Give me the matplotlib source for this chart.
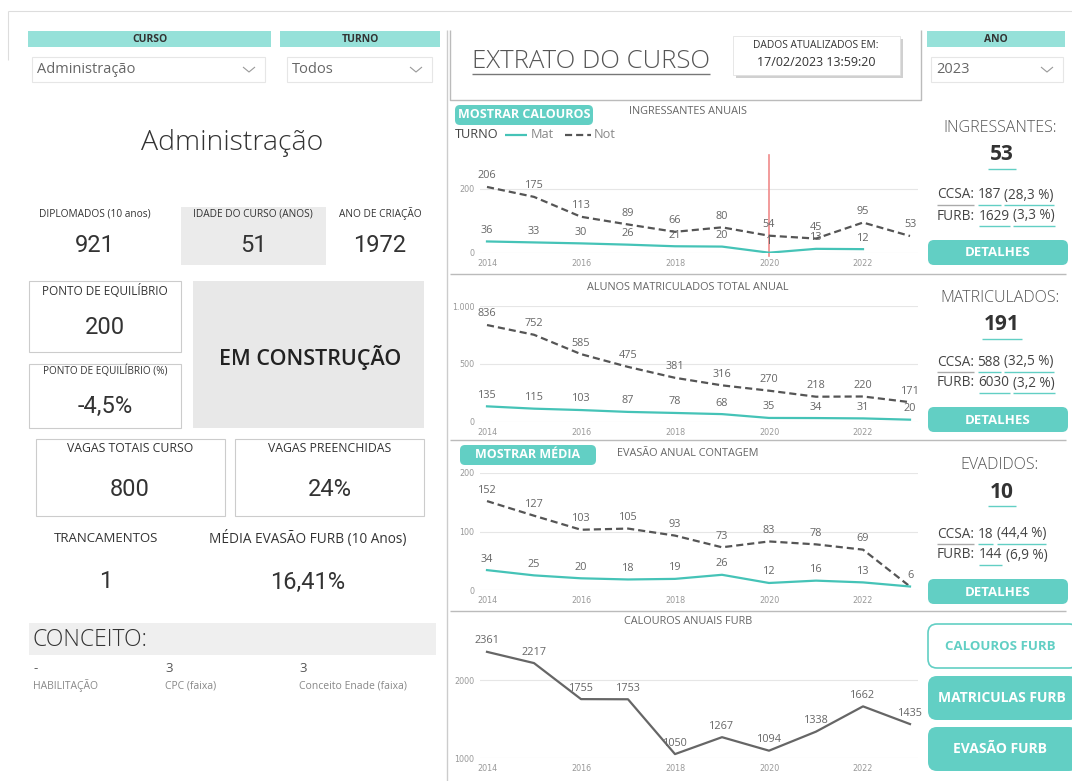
import matplotlib
matplotlib.use("Agg")
import matplotlib.pyplot as plt
from matplotlib.patches import Rectangle, FancyBboxPatch
import numpy as np

W, H = 1072, 781

anos = list(range(2014, 2024))
ingr_mat = [36, 33, 30, 26, 21, 20, 1, 13, 12, np.nan]
ingr_not = [206, 175, 113, 89, 66, 80, 54, 45, 95, 53]
matr_mat = [135, 115, 103, 87, 78, 68, 35, 34, 31, 20]
matr_not = [836, 752, 585, 475, 381, 316, 270, 218, 220, 171]
evas_mat = [34, 25, 20, 18, 19, 26, 12, 16, 13, 6]
evas_not = [152, 127, 103, 105, 93, 73, 83, 78, 69, 6]
calouros_furb = [2361, 2217, 1755, 1753, 1050, 1267, 1094, 1338, 1662, 1435]

TEAL = "#62cfc4"
TEAL_LIGHT = "#96e1d9"
TEAL_LINE = "#45c3b7"
DARK = "#555555"
SANS = ["Open Sans", "DejaVu Sans"]
NUM = ["Roboto", "DejaVu Sans"]

fig = plt.figure(figsize=(W / 100, H / 100), dpi=100)
bg = fig.add_axes([0, 0, 1, 1])
bg.set_xlim(0, W)
bg.set_ylim(H, 0)
bg.axis("off")
rend = fig.canvas.get_renderer()


def rect(x, y, w, h, fc="none", ec="none", lw=0.8, r=0, z=1):
    if r:
        p = FancyBboxPatch((x + r, y + r), w - 2 * r, h - 2 * r,
                           boxstyle="round,pad=%g" % r, fc=fc, ec=ec, lw=lw, zorder=z)
    else:
        p = Rectangle((x, y), w, h, fc=fc, ec=ec, lw=lw, zorder=z)
    bg.add_patch(p)


def txt(x, y, s, size, color=DARK, weight="normal", ha="center", family=SANS, va="center"):
    return bg.text(x, y, s, fontsize=size, color=color, fontweight=weight,
                   ha=ha, va=va, family=family, zorder=5)


def line(xs, ys, color="#cccccc", lw=0.8, **kw):
    bg.plot(xs, ys, color=color, lw=lw, solid_capstyle="butt", **kw)


def tw(t):
    return t.get_window_extent(rend).width


def space_w(size):
    a = txt(0, 0, "a a", size)
    b = txt(0, 0, "aa", size)
    w = tw(a) - tw(b)
    a.remove()
    b.remove()
    return w


def seg_line(x, y, parts, size):
    # parts: (texto, cor do sublinhado ou None)
    sp = space_w(size)
    for s, uc in parts:
        t = txt(x, y, s, size, color="#444444", ha="left")
        w = tw(t)
        if uc:
            line([x, x + w], [y + 10, y + 10], color=uc, lw=1.0)
        x += w + sp


def dropdown(x, y, w, label):
    rect(x, y, w, 25, fc="white", ec="#e6e6e6", lw=0.8)
    txt(x + 5, y + 12.5, label, 10.5, color="#666666", ha="left")
    cx = x + w - 16
    line([cx - 6, cx, cx + 6], [y + 10, y + 15, y + 10], color="#999999", lw=0.8)


# moldura geral
line([8, W], [11, 11], color="#dddddd")
line([8, 8], [11, 60], color="#dddddd")
line([447, 447], [30, H], color="#cccccc", lw=1.0)

# ----- painel esquerdo -----
rect(28, 31, 243, 16, fc=TEAL_LIGHT)
txt(150, 39.5, "CURSO", 7.5, color="#333333", weight="bold")
rect(280, 31, 160, 16, fc=TEAL_LIGHT)
txt(360, 39.5, "TURNO", 7.5, color="#333333", weight="bold")
dropdown(32, 57, 233, "Administração")
dropdown(287, 57, 145, "Todos")

txt(232, 143, "Administração", 20.5, color="#333333", weight="light")

rect(181, 207, 145, 58, fc="#ebebeb")
for cx, t, v in [(95, "DIPLOMADOS (10 anos)", "921"),
                 (253, "IDADE DO CURSO (ANOS)", "51"),
                 (380, "ANO DE CRIAÇÃO", "1972")]:
    txt(cx, 214, t, 7.3, color="#333333")
    txt(cx, 245, v, 17, color="#333333", family=NUM)

rect(29, 281, 152, 71, fc="white", ec="#cccccc")
txt(105, 291, "PONTO DE EQUILÍBRIO", 8.5, color="#333333")
txt(105, 328, "200", 17, color="#333333", family=NUM)
rect(29, 364, 152, 64, fc="white", ec="#cccccc")
txt(105, 371, "PONTO DE EQUILÍBRIO (%)", 7.2, color="#333333")
txt(105, 406, "-4,5%", 17, color="#333333", family=NUM)
rect(193, 281, 231, 147, fc="#e8e8e8")
txt(310, 357, "EM CONSTRUÇÃO", 15.5, color="#222222", weight="semibold")

rect(36, 439, 189, 77, fc="white", ec="#cccccc")
txt(130, 449, "VAGAS TOTAIS CURSO", 8.8, color="#333333")
txt(130, 489, "800", 17, color="#333333", family=NUM)
rect(235, 439, 189, 77, fc="white", ec="#cccccc")
txt(330, 449, "VAGAS PREENCHIDAS", 8.8, color="#333333")
txt(330, 489, "24%", 17, color="#333333", family=NUM)

txt(106, 539, "TRANCAMENTOS", 9.5, color="#333333")
txt(106, 582, "1", 17, color="#333333", family=NUM)
txt(308, 539, "MÉDIA EVASÃO FURB (10 Anos)", 9.8, color="#333333")
txt(308, 582, "16,41%", 17, color="#333333", family=NUM)

rect(29, 623, 407, 32, fc="#efefef")
txt(33, 640, "CONCEITO:", 16.5, color="#333333", ha="left", weight="light")
for x, v, t in [(33, "-", "HABILITAÇÃO"), (165, "3", "CPC (faixa)"),
                (299, "3", "Conceito Enade (faixa)")]:
    txt(x, 669, v, 9.5, color="#555555", ha="left")
    txt(x, 686, t, 7.5, color="#888888", ha="left")

# ----- cabecalho direito -----
line([450, 450, 921, 921], [30, 100, 100, 30], color="#bbbbbb", lw=1.0)
t = txt(472, 61, "EXTRATO DO CURSO", 18.5, color="#555555", ha="left", weight="light")
line([472, 472 + tw(t)], [74, 74], color="#777777", lw=1.0)
rect(736, 39, 167, 39, fc="#d0d0d0")
rect(733, 36, 167, 39, fc="white", ec="#dddddd", lw=0.5, z=2)
txt(816, 45, "DADOS ATUALIZADOS EM:", 7.4, color="#333333")
txt(816, 63, "17/02/2023 13:59:20", 9, color="#333333")

rect(927, 31, 138, 16, fc=TEAL_LIGHT)
txt(996, 39.5, "ANO", 7.5, color="#333333", weight="bold")
dropdown(931, 57, 132, "2023")

for y in [274, 440, 611]:
    line([450, 1066], [y, y], color="#bbbbbb", lw=1.0)


# ----- graficos -----
def chart(top, bottom, ylim, yticks, ylabels):
    ax = fig.add_axes([480 / W, 1 - bottom / H, 438 / W, (bottom - top) / H])
    ax.set_xlim(2014 - 7 / 47, 2023 + 8 / 47)
    ax.set_ylim(*ylim)
    ax.set_yticks(yticks)
    ax.set_yticklabels(ylabels)
    ax.set_xticks(range(2014, 2024, 2))
    ax.tick_params(length=0, labelsize=5.8, labelcolor="#999999", pad=4)
    ax.grid(axis="y", color="#e6e6e6", lw=0.8)
    ax.set_axisbelow(True)
    for s in ax.spines.values():
        s.set_visible(False)
    ax.patch.set_alpha(0)
    return ax


def labels(ax, ys, skip=None):
    for i, (x, v) in enumerate(zip(anos, ys)):
        if np.isnan(v) or (skip is not None and skip[i] == v):
            continue
        ax.annotate(str(int(v)), (x, v), xytext=(0, 4), textcoords="offset points",
                    ha="center", va="bottom", fontsize=7.8, color="#666666",
                    family=SANS, annotation_clip=False)


def turnos(ax, mat, nott):
    ax.plot(anos, nott, color=DARK, lw=1.6, ls=(0, (3.2, 1.8)))
    ax.plot(anos, mat, color=TEAL_LINE, lw=1.6)
    labels(ax, nott)
    labels(ax, mat, skip=nott)


# ingressantes
rect(455, 105, 138, 20, fc=TEAL, r=5)
txt(524, 115, "MOSTRAR CALOUROS", 9, color="white", weight="bold")
txt(688, 111, "INGRESSANTES ANUAIS", 7.8, color="#666666")
txt(455, 135, "TURNO", 9.2, color="#444444", ha="left")
line([505, 527], [135, 135], color=TEAL_LINE, lw=1.6)
txt(531, 135, "Mat", 9.2, color="#888888", ha="left")
line([565, 591], [135, 135], color=DARK, lw=1.6, ls=(0, (3.2, 1.8)))
txt(594, 135, "Not", 9.2, color="#888888", ha="left")
ax1 = chart(160, 253, (0, 290), [0, 200], ["0", "200"])
ax1.plot([2020, 2020], [-8, 305], color="#f08a8a", lw=1.2, clip_on=False)
turnos(ax1, ingr_mat, ingr_not)

# matriculados
txt(688, 288, "ALUNOS MATRICULADOS TOTAL ANUAL", 7.8, color="#666666")
ax2 = chart(306, 422, (0, 1000), [0, 500, 1000], ["0", "500", "1.000"])
turnos(ax2, matr_mat, matr_not)

# evasao
rect(460, 445, 136, 20, fc=TEAL, r=5)
txt(528, 455, "MOSTRAR MÉDIA", 9, color="white", weight="bold")
txt(688, 453, "EVASÃO ANUAL CONTAGEM", 7.8, color="#666666")
ax3 = chart(473, 590, (0, 200), [0, 100, 200], ["0", "100", "200"])
turnos(ax3, evas_mat, evas_not)

# calouros furb
txt(688, 622, "CALOUROS ANUAIS FURB", 7.8, color="#666666")
ax4 = chart(640, 758, (1000, 2513), [1000, 2000], ["1000", "2000"])
ax4.plot(anos, calouros_furb, color="#666666", lw=1.6)
labels(ax4, calouros_furb)

# ----- cartoes a direita -----
cards = [
    (128, "INGRESSANTES:", "53", [("CCSA:", "#aaaaaa"), ("187", TEAL), ("(28,3 %)", TEAL)],
     [("FURB:", None), ("1629", TEAL), ("(3,3 %)", TEAL)], 240),
    (298, "MATRICULADOS:", "191", [("CCSA:", "#aaaaaa"), ("588", TEAL), ("(32,5 %)", TEAL)],
     [("FURB:", None), ("6030", TEAL), ("(3,2 %)", TEAL)], 407),
    (465, "EVADIDOS:", "10", [("CCSA:", "#aaaaaa"), ("18", TEAL), ("(44,4 %)", TEAL)],
     [("FURB:", None), ("144", TEAL), ("(6,9 %)", None)], 579),
]
for y, title, val, l1, l2, by in cards:
    txt(1000, y, title, 11.5, color="#555555", weight="light")
    t = txt(1002, y + 27, val, 15, color="#333333", weight="bold")
    w = tw(t)
    line([1002 - w / 2 - 2, 1002 + w / 2 + 2], [y + 41, y + 41], color=TEAL, lw=1.0)
    seg_line(937, by - 45, l1, 9.8)
    seg_line(937, by - 24, l2, 9.8)
    rect(928, by, 140, 25, fc=TEAL, r=6)
    txt(998, by + 13, "DETALHES", 9.5, color="white", weight="bold")

rect(928, 624, 150, 44, fc="white", ec=TEAL, lw=1.2, r=9)
txt(1000, 646, "CALOUROS FURB", 9.5, color=TEAL, weight="bold")
rect(928, 676, 150, 44, fc=TEAL, r=9)
txt(1002, 698, "MATRICULAS FURB", 10, color="white", weight="bold")
rect(928, 727, 150, 44, fc=TEAL, r=9)
txt(1000, 749, "EVASÃO FURB", 10, color="white", weight="bold")

fig.savefig("out.png", dpi=100)
